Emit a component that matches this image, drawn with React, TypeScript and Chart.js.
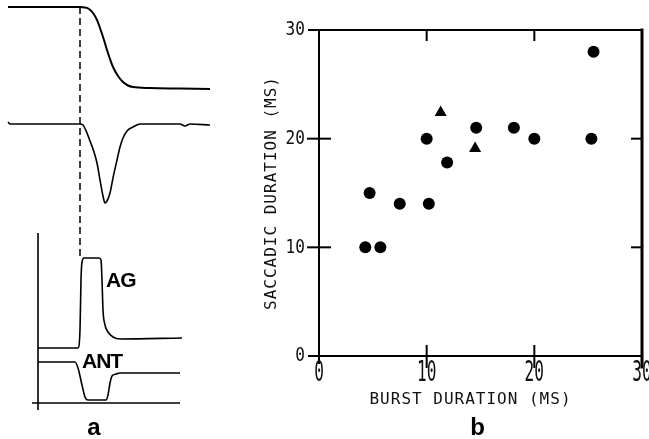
import React, { useEffect, useRef } from "react";
import { Chart, registerables } from "chart.js";

Chart.register(...registerables);

// ---------- Panel a (schematic traces, in panel units) ----------
const eyePosition = [
  [8, 7], [80, 7], [85, 7.5], [89, 9], [93, 13], [97, 20], [100, 28], [104, 40],
  [107, 50], [110, 59], [113, 67], [118, 76], [123, 82], [128, 85.5], [133, 87],
  [150, 88], [180, 88.5], [210, 89],
];
const eyeVelocity = [
  [8, 122], [10, 124], [80, 124], [83, 125], [87, 133], [90, 141], [94, 152],
  [97, 163], [100, 180], [103, 196], [105, 203], [107, 201], [110, 193],
  [113, 178], [117, 160], [120, 147], [123, 138], [127, 131], [133, 127],
  [138, 124.5], [140, 124], [180, 124], [185, 126], [190, 124], [210, 125],
];
const onsetMarker = [[80, 7], [80, 257]];
const agEmg = [
  [38, 348], [78, 348], [80, 330], [81, 280], [82, 262], [84, 258], [99, 258],
  [101, 260], [102, 280], [103, 310], [105, 325], [108, 332], [113, 337],
  [120, 339], [182, 338],
];
const antEmg = [
  [38, 362], [75, 362], [78, 368], [82, 385], [85, 397], [88, 400], [106, 400],
  [108, 395], [110, 383], [112, 376], [116, 374], [120, 373], [180, 373],
];
const emgAxisV = [[38, 233], [38, 410]];
const emgAxisH = [[32, 403], [180, 403]];

// ---------- Panel b (scatter) ----------
const circleBurst = [4.3, 5.7, 4.7, 7.5, 10.2, 10.0, 11.9, 14.6, 18.1, 20.0, 25.3, 25.5];
const circleSaccade = [10, 10, 15, 14, 14, 20, 17.8, 21, 21, 20, 20, 28];
const triangleBurst = [11.3, 14.5];
const triangleSaccade = [22.4, 19.1];
const axisTicks = [0, 10, 20, 30];
const xTitle = "BURST DURATION (MS)";
const yTitle = "SACCADIC DURATION (MS)";

const toXY = (arr: number[][]) => arr.map(([x, y]) => ({ x, y }));

function PanelA() {
  const ref = useRef<HTMLCanvasElement>(null);
  useEffect(() => {
    const line = (data: number[][], w: number, dash: number[] = [], smooth = true) => ({
      type: "line" as const,
      data: toXY(data),
      borderColor: "#000",
      borderWidth: w,
      borderDash: dash,
      pointRadius: 0,
      cubicInterpolationMode: smooth ? ("monotone" as const) : ("default" as const),
      tension: smooth ? 0.4 : 0,
      fill: false,
    });
    const labels = {
      id: "labelsA",
      afterDatasetsDraw(chart: any) {
        const ctx = chart.ctx;
        const xs = chart.scales.x, ys = chart.scales.y;
        ctx.save();
        ctx.fillStyle = "#000";
        ctx.textBaseline = "alphabetic";
        ctx.font = "bold 21px 'Liberation Sans', Arial, sans-serif";
        ctx.textAlign = "left";
        (ctx as any).letterSpacing = "-1px";
        ctx.fillText("AG", xs.getPixelForValue(106), ys.getPixelForValue(287));
        ctx.fillText("ANT", xs.getPixelForValue(82), ys.getPixelForValue(368));
        (ctx as any).letterSpacing = "0px";
        ctx.font = "bold 24px 'Liberation Sans', Arial, sans-serif";
        ctx.textAlign = "center";
        ctx.fillText("a", xs.getPixelForValue(94), ys.getPixelForValue(435));
        ctx.restore();
      },
    };
    const chart = new Chart(ref.current!, {
      type: "line",
      data: {
        datasets: [
          line(eyePosition, 2),
          line(eyeVelocity, 1.6),
          line(onsetMarker, 1.5, [7, 4], false),
          line(agEmg, 1.6),
          line(antEmg, 1.6),
          line(emgAxisV, 1.6, [], false),
          line(emgAxisH, 1.6, [], false),
        ],
      },
      options: {
        responsive: false,
        animation: false,
        layout: { padding: 0 },
        plugins: { legend: { display: false }, tooltip: { enabled: false } },
        scales: {
          x: { type: "linear", min: 0, max: 230, display: false },
          y: { type: "linear", min: 0, max: 439, reverse: true, display: false },
        },
      },
      plugins: [labels],
    });
    return () => chart.destroy();
  }, []);
  return (
    <canvas
      ref={ref}
      width={230}
      height={439}
      style={{ position: "absolute", left: 0, top: 0, width: 230, height: 439 }}
    />
  );
}

function PanelB() {
  const ref = useRef<HTMLCanvasElement>(null);
  useEffect(() => {
    const frame = {
      id: "frameB",
      afterDatasetsDraw(chart: any) {
        const ctx = chart.ctx;
        const xs = chart.scales.x, ys = chart.scales.y;
        const L = xs.getPixelForValue(0), R = xs.getPixelForValue(30);
        const B = ys.getPixelForValue(0), T = ys.getPixelForValue(30);
        ctx.save();
        ctx.strokeStyle = "#000";
        ctx.lineCap = "square";
        const seg = (x1: number, y1: number, x2: number, y2: number, w: number) => {
          ctx.lineWidth = w;
          ctx.beginPath();
          ctx.moveTo(x1, y1);
          ctx.lineTo(x2, y2);
          ctx.stroke();
        };
        seg(L, T, L, B + 7, 2);
        seg(L - 10, B, R, B, 2.2);
        seg(L - 10, T, R, T, 2);
        seg(R, T, R, B + 11, 3);
        axisTicks.forEach((v) => {
          const px = xs.getPixelForValue(v);
          const py = ys.getPixelForValue(v);
          if (v > 0 && v < 30) {
            seg(px, B - 10, px, B + 11, 2);
            seg(px, T, px, T + 10, 2);
            seg(L - 11, py, L + 11, py, 2);
            seg(R - 10, py, R, py, 2);
          }
        });
        // tick labels
        ctx.fillStyle = "#111";
        ctx.font = "19px 'DejaVu Sans Mono', monospace";
        ctx.textBaseline = "middle";
        axisTicks.forEach((v) => {
          const py = ys.getPixelForValue(v);
          ctx.save();
          ctx.translate(L - 14, py);
          ctx.scale(0.85, 1.05);
          ctx.textAlign = "right";
          ctx.fillText(String(v), 0, 0);
          ctx.restore();
          const px = xs.getPixelForValue(v);
          ctx.save();
          ctx.translate(px, B + 18);
          ctx.scale(0.85, 1.45);
          ctx.textAlign = "center";
          ctx.fillText(String(v), 0, 0);
          ctx.restore();
        });
        // axis titles
        ctx.font = "16px 'DejaVu Sans Mono', monospace";
        (ctx as any).letterSpacing = "1px";
        ctx.textAlign = "center";
        ctx.fillText(xTitle, (L + R) / 2 - 10, B + 44);
        ctx.save();
        ctx.translate(L - 47, (T + B) / 2);
        ctx.rotate(-Math.PI / 2);
        ctx.fillText(yTitle, 0, 0);
        ctx.restore();
        (ctx as any).letterSpacing = "0px";
        ctx.font = "bold 24px 'Liberation Sans', Arial, sans-serif";
        ctx.textBaseline = "alphabetic";
        ctx.fillStyle = "#000";
        ctx.fillText("b", (L + R) / 2 - 3, B + 79);
        ctx.restore();
      },
    };
    const chart = new Chart(ref.current!, {
      type: "scatter",
      data: {
        datasets: [
          {
            data: circleBurst.map((x, i) => ({ x, y: circleSaccade[i] })),
            pointStyle: "circle",
            pointRadius: 6,
            backgroundColor: "#000",
            borderColor: "#000",
            borderWidth: 0,
          },
          {
            data: triangleBurst.map((x, i) => ({ x, y: triangleSaccade[i] })),
            pointStyle: "triangle",
            pointRadius: 7,
            backgroundColor: "#000",
            borderColor: "#000",
            borderWidth: 0,
          },
        ],
      },
      options: {
        responsive: false,
        animation: false,
        layout: { padding: { left: 89, right: 4, top: 30, bottom: 83 } },
        plugins: { legend: { display: false }, tooltip: { enabled: false } },
        scales: {
          x: { type: "linear", min: 0, max: 30, display: false },
          y: { type: "linear", min: 0, max: 30, display: false },
        },
      },
      plugins: [frame],
    });
    return () => chart.destroy();
  }, []);
  return (
    <canvas
      ref={ref}
      width={419}
      height={439}
      style={{ position: "absolute", left: 230, top: 0, width: 419, height: 439 }}
    />
  );
}

export default function App() {
  return (
    <div
      style={{
        position: "fixed",
        left: 0,
        top: 0,
        width: 649,
        height: 439,
        background: "#fff",
        overflow: "hidden",
      }}
    >
      <PanelA />
      <PanelB />
    </div>
  );
}
